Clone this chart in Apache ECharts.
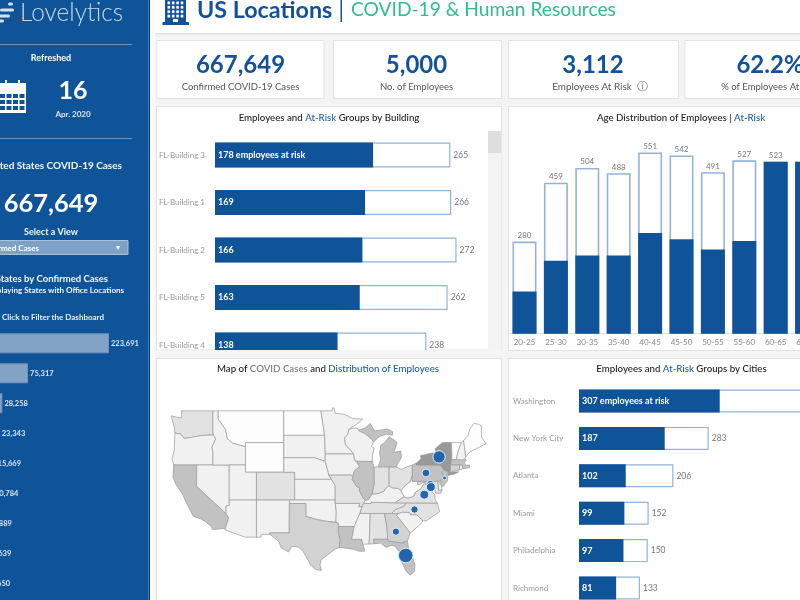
<!DOCTYPE html>
<html lang="en">
<head>
<meta charset="utf-8">
<title>US Locations | COVID-19 & Human Resources</title>
<script src="https://cdn.jsdelivr.net/npm/echarts@6/dist/echarts.min.js"></script>
<style>
  html, body { margin: 0; padding: 0; background: #f4f4f4; }
  #main { width: 800px; height: 600px; }
</style>
</head>
<body>
<div id="main"></div>
<script>
// data
var kpiValues = ['667,649', '5,000', '3,112', '62.2%'];
var kpiLabels = ['Confirmed COVID-19 Cases', 'No. of Employees', 'Employees At Risk', '% of Employees At Risk'];

var sideStates = ['New York', 'New Jersey', 'Pennsylvania', 'Florida', 'Georgia', 'Maryland', 'Virginia', 'North Carolina', 'South Carolina'];
var sideCases = [223691, 75317, 28258, 23343, 15669, 10784, 6889, 5639, 3650];

var buildings = ['FL-Building 3', 'FL-Building 1', 'FL-Building 2', 'FL-Building 5', 'FL-Building 4'];
var buildingTotal = [265, 266, 272, 262, 238];
var buildingRisk = [178, 169, 166, 163, 138];

var ageGroups = ['20-25', '25-30', '30-35', '35-40', '40-45', '45-50', '50-55', '55-60', '60-65', '65-70'];
var ageTotal = [280, 459, 504, 488, 551, 542, 491, 527, 523, 523];
var ageRisk = [128, 222, 238, 238, 306, 287, 256, 282, 523, 523];

var cities = ['Washington', 'New York City', 'Atlanta', 'Miami', 'Philadelphia', 'Richmond'];
var cityTotal = [520, 283, 206, 152, 150, 133];
var cityRisk = [307, 187, 102, 99, 97, 81];

var stateNames = ['WA','OR','CA','NV','ID','MT','WY','UT','CO','AZ','NM','ND','SD','NE','KS','OK','TX','MN','IA','MO','AR','LA','MS','AL','GA','FL','SC','NC','TN','KY','VA','WV','MD','DE','PA','NJ','NY','CT','RI','MA','VT','NH','ME','OH','IN','IL','WI','MI'];
var stateCases = [11057,1663,27677,3321,1464,404,296,2548,8280,4234,1484,393,1168,1000,1615,2465,16455,1809,2141,5111,1620,22532,3793,4572,15669,23343,3650,5639,6079,2291,6889,702,10784,2014,28258,75317,223691,16809,4177,29918,768,1287,770,7791,9542,25733,3721,29263];

// rough state outlines, lon/lat
var stateShapes = {
  WA: [[[-124.7,48.4],[-123.2,48.15],[-122.75,48.2],[-122.8,49],[-117.03,49],[-117.04,46.4],[-116.92,45.99],[-119,45.93],[-121.2,45.65],[-122.3,45.55],[-122.9,46.1],[-124,46.25],[-124.1,47]]],
  OR: [[[-124,46.25],[-122.9,46.1],[-122.3,45.55],[-121.2,45.65],[-119,45.93],[-116.92,45.99],[-116.5,45.5],[-117.2,44.4],[-117.03,43.8],[-117.03,42],[-124.2,42],[-124.5,42.85],[-124.1,44]]],
  CA: [[[-124.2,42],[-120,42],[-120,39],[-114.63,35],[-114.13,34.3],[-114.5,33.4],[-114.72,32.72],[-117.12,32.53],[-117.3,33],[-118.4,33.75],[-119.2,34.15],[-120.6,34.55],[-121.9,36.6],[-122.5,37.7],[-123.8,39.3],[-124.35,40.3]]],
  NV: [[[-120,42],[-114.04,42],[-114.04,36.2],[-114.63,36.1],[-114.63,35],[-120,39]]],
  ID: [[[-117.03,49],[-116.05,49],[-116.05,48],[-114.7,46.7],[-114.4,45.55],[-113.45,44.95],[-111.05,44.48],[-111.05,42],[-117.03,42],[-117.03,43.8],[-117.2,44.4],[-116.5,45.5],[-116.92,45.99],[-117.04,46.4]]],
  MT: [[[-116.05,49],[-104.05,49],[-104.05,45],[-111.05,45],[-111.05,44.48],[-113.45,44.95],[-114.4,45.55],[-114.7,46.7],[-116.05,48]]],
  WY: [[[-111.05,45],[-104.05,45],[-104.05,41],[-111.05,41]]],
  UT: [[[-114.04,42],[-111.05,42],[-111.05,41],[-109.05,41],[-109.05,37],[-114.04,37]]],
  CO: [[[-109.05,41],[-102.05,41],[-102.05,37],[-109.05,37]]],
  AZ: [[[-114.04,37],[-109.05,37],[-109.05,31.33],[-111.07,31.33],[-114.82,32.5],[-114.72,32.72],[-114.5,33.4],[-114.13,34.3],[-114.63,35],[-114.63,36.1],[-114.04,36.2]]],
  NM: [[[-109.05,37],[-103,37],[-103.05,32],[-106.62,32],[-106.53,31.78],[-108.2,31.78],[-108.2,31.33],[-109.05,31.33]]],
  ND: [[[-104.05,49],[-97.23,49],[-96.56,45.94],[-104.05,45.94]]],
  SD: [[[-104.05,45.94],[-96.56,45.94],[-96.45,43.5],[-96.45,42.49],[-98.5,43],[-104.05,43]]],
  NE: [[[-104.05,43],[-98.5,43],[-96.45,42.49],[-95.9,41],[-95.77,40.58],[-95.31,40],[-102.05,40],[-102.05,41],[-104.05,41]]],
  KS: [[[-102.05,40],[-95.31,40],[-94.62,39.1],[-94.62,37],[-102.05,37]]],
  OK: [[[-103,37],[-94.62,37],[-94.62,36.5],[-94.43,35.4],[-94.48,33.64],[-96.6,33.85],[-98.1,34.1],[-100,34.56],[-100,36.5],[-103,36.5]]],
  TX: [[[-106.62,32],[-103.05,32],[-103,36.5],[-100,36.5],[-100,34.56],[-98.1,34.1],[-96.6,33.85],[-94.48,33.64],[-94.04,33.55],[-94.04,32],[-93.7,31],[-93.85,29.7],[-94.7,29.4],[-96,28.5],[-97.2,27.7],[-97.4,26.9],[-97.15,25.95],[-98.2,26.1],[-99.2,26.9],[-99.5,27.5],[-100.6,29.2],[-101.4,29.77],[-102.3,29.88],[-102.7,29.7],[-103.15,28.98],[-104.5,29.6],[-104.9,30.6],[-106.53,31.78]]],
  MN: [[[-97.23,49],[-95.15,49],[-95.15,49.38],[-94.8,49.3],[-94.6,48.7],[-93,48.6],[-91.4,48.05],[-89.6,48],[-90.8,47.28],[-92.1,46.75],[-92.3,46.1],[-92.9,45.6],[-92.75,44.75],[-91.22,43.5],[-96.45,43.5],[-96.56,45.94]]],
  IA: [[[-96.45,43.5],[-91.22,43.5],[-91.1,42.7],[-90.15,41.8],[-91.1,41.2],[-91.42,40.38],[-91.73,40.61],[-95.77,40.58],[-95.9,41],[-96.45,42.49]]],
  MO: [[[-95.77,40.58],[-91.73,40.61],[-91.42,40.38],[-91.5,40],[-90.7,39],[-90.15,38.8],[-90.2,38.4],[-89.5,37.3],[-89.1,37],[-89.4,36.5],[-89.7,36],[-90.37,36],[-90.1,36.5],[-94.62,36.5],[-94.62,39.1],[-95.31,40]]],
  AR: [[[-94.62,36.5],[-90.1,36.5],[-90.37,36],[-89.7,36],[-90.1,35],[-91.15,33],[-94.04,33],[-94.04,33.55],[-94.48,33.64],[-94.43,35.4]]],
  LA: [[[-94.04,33],[-91.15,33],[-91.6,31],[-89.73,31],[-89.6,30.2],[-89.4,29.8],[-89.2,29.1],[-90.2,29.1],[-91.3,29.4],[-92.3,29.55],[-93.85,29.7],[-93.7,31],[-94.04,32]]],
  MS: [[[-90.1,35],[-88.2,35],[-88.4,30.25],[-89.6,30.2],[-89.73,31],[-91.6,31],[-91.15,33]]],
  AL: [[[-88.2,35],[-85.6,35],[-85.13,32.8],[-85,31],[-87.6,31],[-87.5,30.3],[-88.4,30.25]]],
  GA: [[[-85.6,35],[-83.1,35],[-83.35,34.7],[-81.4,32.6],[-80.85,32.03],[-81.4,30.7],[-82.2,30.55],[-82.05,30.36],[-84.86,30.7],[-85,31],[-85.13,32.8]]],
  FL: [[[-87.6,31],[-85,31],[-84.86,30.7],[-82.05,30.36],[-82.2,30.55],[-81.4,30.7],[-81.2,29.6],[-80.5,28.3],[-80,26.8],[-80.15,25.7],[-80.9,25.15],[-81.7,25.9],[-82.2,26.9],[-82.8,27.9],[-82.7,28.8],[-83.7,29.9],[-84.3,30.05],[-85.3,29.7],[-86.3,30.4],[-87.5,30.3]]],
  SC: [[[-83.35,34.7],[-83.1,35],[-82.3,35.2],[-81.05,35.15],[-80.8,34.82],[-79.67,34.8],[-78.55,33.86],[-79.2,33.2],[-80.85,32.03],[-81.4,32.6]]],
  NC: [[[-84.32,34.99],[-83.1,35],[-82.3,35.2],[-81.05,35.15],[-80.8,34.82],[-79.67,34.8],[-78.55,33.86],[-77.9,33.9],[-76.5,34.7],[-75.5,35.25],[-75.9,36.55],[-81.68,36.59],[-82,36.1],[-83.7,35.55]]],
  TN: [[[-89.7,36],[-89.4,36.5],[-88.07,36.5],[-88.07,36.68],[-83.68,36.6],[-81.68,36.59],[-82,36.1],[-83.7,35.55],[-84.32,34.99],[-85.6,35],[-88.2,35],[-90.1,35]]],
  KY: [[[-89.4,36.5],[-89.1,37],[-88.5,37.1],[-87.9,37.9],[-86.8,37.95],[-85.7,38.3],[-85.4,38.7],[-84.8,39.1],[-84.2,38.8],[-83,38.7],[-82.6,38.4],[-82,37.5],[-83.68,36.6],[-88.07,36.68],[-88.07,36.5]]],
  VA: [[[-83.68,36.6],[-82,37.5],[-81.3,37.3],[-80.3,37.55],[-79.9,38.2],[-79.3,38.42],[-78.87,38.76],[-78.35,39.4],[-77.75,39.32],[-77.1,38.9],[-77.3,38.4],[-76.4,37.9],[-76.3,37],[-75.9,36.55],[-81.68,36.59]]],
  WV: [[[-82,37.5],[-82.6,38.4],[-81.75,39.2],[-80.85,39.7],[-80.52,40.64],[-80.52,39.72],[-79.48,39.72],[-79.48,39.2],[-78.35,39.63],[-77.75,39.32],[-78.35,39.4],[-78.87,38.76],[-79.3,38.42],[-79.9,38.2],[-80.3,37.55],[-81.3,37.3]]],
  MD: [[[-79.48,39.72],[-75.79,39.72],[-75.7,38.46],[-75.05,38.45],[-75.25,38.03],[-76.2,38],[-76.5,38.9],[-77.1,38.9],[-77.75,39.32],[-78.35,39.63],[-79.48,39.2]]],
  DE: [[[-75.79,39.72],[-75.4,39.8],[-75.1,38.8],[-75.05,38.45],[-75.7,38.46]]],
  PA: [[[-80.52,42],[-79.76,42.27],[-79.76,42],[-75.35,42],[-74.7,41.36],[-75.1,40.95],[-74.75,40.2],[-75.4,39.8],[-75.79,39.72],[-80.52,39.72]]],
  NJ: [[[-74.7,41.36],[-73.9,41],[-74.2,40.45],[-74,40.4],[-74.1,39.75],[-74.9,38.95],[-75.5,39.5],[-74.75,40.2],[-75.1,40.95]]],
  NY: [[[-79.76,42.27],[-78.9,42.85],[-79,43.27],[-76.8,43.63],[-76.2,43.55],[-76.3,44.2],[-75,45],[-73.35,45],[-73.25,43.6],[-73.27,42.75],[-73.5,42.05],[-73.5,41.3],[-73.65,41],[-72,41.05],[-72.7,40.75],[-74,40.55],[-73.9,41],[-74.7,41.36],[-75.35,42],[-79.76,42]]],
  CT: [[[-73.5,42.05],[-71.8,42.02],[-71.85,41.32],[-73.65,41],[-73.5,41.3]]],
  RI: [[[-71.8,42.02],[-71.38,42.02],[-71.2,41.5],[-71.85,41.32]]],
  MA: [[[-73.5,42.05],[-73.27,42.75],[-71.3,42.7],[-70.85,42.87],[-70.6,42.65],[-71,42.3],[-70.6,41.95],[-70,42],[-70,41.65],[-71.2,41.5],[-71.38,42.02],[-71.8,42.02]]],
  VT: [[[-73.35,45],[-71.5,45],[-72.05,44],[-72.46,42.73],[-73.27,42.75],[-73.25,43.6]]],
  NH: [[[-71.5,45],[-71.1,45.3],[-70.7,43.1],[-70.85,42.87],[-71.3,42.7],[-72.46,42.73],[-72.05,44]]],
  ME: [[[-71.1,45.3],[-70.3,45.9],[-70,46.7],[-69.2,47.45],[-68.3,47.35],[-67.8,47.07],[-67.8,45.7],[-67,44.85],[-68.5,44.3],[-70,43.75],[-70.7,43.1]]],
  OH: [[[-84.8,41.76],[-83.45,41.73],[-82.5,41.4],[-81.3,41.8],[-80.52,42],[-80.52,40.64],[-80.85,39.7],[-81.75,39.2],[-82.6,38.4],[-83,38.7],[-84.2,38.8],[-84.8,39.1]]],
  IN: [[[-87.52,41.7],[-86.8,41.76],[-84.8,41.76],[-84.8,39.1],[-85.4,38.7],[-85.7,38.3],[-86.8,37.95],[-87.9,37.9],[-87.5,39.3]]],
  IL: [[[-90.64,42.5],[-87.8,42.5],[-87.52,41.7],[-87.5,39.3],[-87.9,37.9],[-88.5,37.1],[-89.1,37],[-89.5,37.3],[-90.2,38.4],[-90.15,38.8],[-90.7,39],[-91.5,40],[-91.42,40.38],[-91.1,41.2],[-90.15,41.8]]],
  WI: [[[-92.1,46.75],[-90.8,46.9],[-89.1,46.15],[-87.8,45.35],[-87.6,45.1],[-88,44.5],[-87.5,44.3],[-87.8,43.3],[-87.8,42.5],[-90.64,42.5],[-91.1,42.7],[-91.22,43.5],[-92.75,44.75],[-92.9,45.6],[-92.3,46.1]]],
  MI: [[[-86.8,41.76],[-83.45,41.73],[-83.1,42.3],[-82.5,43],[-82.6,43.9],[-83.9,43.7],[-83.3,44.9],[-83.4,45.1],[-84.75,45.78],[-85.5,45],[-86.25,44.7],[-86.5,43.6],[-86.25,42.8]],
       [[-90.4,46.55],[-89.1,46.9],[-88.2,47.45],[-87.7,46.85],[-87.4,46.5],[-85,46.75],[-84.1,46.4],[-84.1,45.98],[-85.5,46.05],[-86.5,45.8],[-87.6,45.1],[-87.8,45.35],[-89.1,46.15]]]
};

var officeSpots = [[-75.6,43.1],[-78,40.9],[-74.6,40.2],[-77.2,39.4],[-77.1,38.9],[-78.3,37.8],[-80.1,35.6],[-83.5,32.2],[-81.7,28.4]];
var officeStaff = [790, 320, 80, 235, 420, 420, 275, 275, 1100];

var FONT = 'Lato, "Noto Sans", sans-serif';
var BLUE = '#0f5499';
var EDGE = '#94b3d9';
var GREY = '#f4f4f4';

var features = stateNames.map(function (name) {
  var rings = stateShapes[name];
  return {
    type: 'Feature',
    properties: { name: name },
    geometry: rings.length > 1
      ? { type: 'MultiPolygon', coordinates: rings.map(function (r) { return [r.concat([r[0]])]; }) }
      : { type: 'Polygon', coordinates: [rings[0].concat([rings[0][0]])] }
  };
});
echarts.registerMap('usa', { type: 'FeatureCollection', features: features });

// tableau draws the map in web mercator
var mercator = {
  project: function (p) {
    return [p[0], -Math.log(Math.tan(Math.PI / 4 + p[1] * Math.PI / 360)) * 180 / Math.PI];
  },
  unproject: function (p) {
    return [p[0], (2 * Math.atan(Math.exp(-p[1] * Math.PI / 180)) - Math.PI / 2) * 180 / Math.PI];
  }
};

function box(x, y, w, h, fill, stroke, z) {
  return { type: 'rect', z: z || 0, shape: { x: x, y: y, width: w, height: h },
    style: { fill: fill, stroke: stroke || null, lineWidth: stroke ? 1 : 0 }, silent: true };
}
function label(text, x, y, size, color, weight, align, z) {
  return { type: 'text', z: z || 5, x: x, y: y, silent: true,
    style: { text: text, fontFamily: FONT, fontSize: size, fill: color, fontWeight: weight || 'normal',
      align: align || 'center', verticalAlign: 'middle' } };
}
function panelTitle(parts, x, y) {
  var rich = { k: { fill: '#222', fontSize: 9.7, fontFamily: FONT, fontWeight: 500 },
    b: { fill: '#1d5ea8', fontSize: 9.7, fontFamily: FONT, fontWeight: 500 },
    g: { fill: '#777', fontSize: 9.7, fontFamily: FONT, fontWeight: 500 } };
  return { type: 'text', z: 5, x: x, y: y, silent: true,
    style: { text: parts, rich: rich, align: 'center', verticalAlign: 'middle' } };
}

var els = [];
// sidebar
els.push(box(0, 0, 148.5, 600, BLUE), box(148.5, 0, 1.5, 600, '#0b3f86'));
els.push(box(150, 0, 5, 600, '#fafafa'));
[[8, 4, 5], [0, 10, 14], [-2, 16, 12], [-1, 21, 5]].forEach(function (s) {
  els.push({ type: 'rect', z: 3, shape: { x: s[0], y: s[1] - 1.5, width: s[2], height: 3, r: 1.5 }, style: { fill: '#d5e2ee' }, silent: true });
});
els.push(label('Lovelytics', 20, 13, 24.5, '#c6d8ea', 300, 'left'));
els.push(box(0, 44, 132, 1, '#6d93bf'), box(0, 138, 132, 1, '#6d93bf'));
els.push(label('Refreshed', 51, 58.5, 9, '#fff', 'bold'));
els.push(box(-3, 83, 29, 30, '#fff', null, 3));
for (var r = 0; r < 3; r++) for (var c = 0; c < 4; c++) els.push(box(0 + c * 6.5, 94 + r * 6, 5, 4, BLUE, null, 4));
els.push(box(5, 80, 2, 6, '#fff', null, 4), box(18, 80, 2, 6, '#fff', null, 4));
els.push(label('16', 73, 91, 25, '#fff', 'bold'));
els.push(label('Apr. 2020', 73, 114.5, 8, '#dfe8f2', 'bold'));
els.push(label('United States COVID-19 Cases', 122, 166, 10, '#f2f5f9', 'bold', 'right'));
els.push(label('667,649', 51, 204, 25.5, '#fff', 'bold'));
els.push(label('Select a View', 51, 232.5, 9, '#f2f5f9', 'bold'));
els.push(box(-3, 240.5, 131, 14, '#7ea1c8', '#a9c1dc', 3));
els.push(label('Confirmed Cases', 39, 248, 8, '#fff', 'bold', 'right'));
els.push(label('\u25BE', 118, 247.5, 8, '#fff', 'normal'));
els.push(label('Top States by Confirmed Cases', 108, 278.5, 9.5, '#f2f5f9', 'bold', 'right'));
els.push(label('Displaying States with Office Locations', 124, 290.5, 8, '#f2f5f9', 'bold', 'right'));
els.push(label('Click to Filter the Dashboard', 104, 317, 8, '#e8eef5', 'bold', 'right'));

// header
els.push(box(155, 0, 645, 33, '#fff'), box(155, 33, 645, 1.5, '#e2e2e2'));
els.push(box(165, 0, 21, 22, '#15509b', null, 3), box(162.5, 22, 26.5, 3, '#15509b', null, 3));
for (var wr = 0; wr < 4; wr++) for (var wc = 0; wc < 4; wc++) els.push(box(167.5 + wc * 4.4, 1.5 + wr * 4.4, 2.6, 2.8, '#fff', null, 4));
els.push(box(173, 19, 5, 3, '#fff', null, 4));
els.push(label('US Locations', 197, 10, 23.3, '#15509b', 'bold', 'left'));
els.push(box(340.5, 0, 1.5, 22, '#15509b', null, 3));
els.push(label('COVID-19 & Human Resources', 351, 10, 19.2, '#2fbd8b', 'normal', 'left'));

// kpi cards
var cardX = [157, 333.5, 508.5, 685], cardW = [167, 168, 170, 130], kpiX = [240.5, 416.5, 593, 770];
cardX.forEach(function (x, i) {
  els.push(box(x, 40.5, cardW[i], 58, '#fff', '#e3e3e3'));
  els.push(label(kpiValues[i], kpiX[i], 65, 24, '#15509b', 'bold'));
  els.push(label(kpiLabels[i], kpiX[i] - (i === 2 ? 1 : 0), 87, i === 2 ? 9.9 : 9.5, '#555'));
});
els.push(label('\u24D8', 642.5, 87, 11, '#777'));
els[els.length - 1].style.fontFamily = 'DejaVu Sans';

// panels
els.push(box(156.5, 106.5, 345, 243.5, '#fff', '#e3e3e3'));
els.push(box(508.5, 106.5, 300, 244, '#fff', '#e3e3e3'));
els.push(box(156.5, 358.5, 345, 250, '#fff', '#e3e3e3'));
els.push(box(508.5, 358.5, 300, 250, '#fff', '#e3e3e3'));
els.push(box(488, 131, 13.5, 219, '#f3f3f3', null, 3), box(488, 131, 13.5, 22, '#dedede', null, 4));
// the building list scrolls, its last bar is cut off by the panel edge
els.push(box(156, 350, 346, 8, GREY, null, 100));
els.push(panelTitle('{k|Employees and }{b|At-Risk}{k| Groups by Building}', 329, 117.5));
els.push(panelTitle('{k|Age Distribution of Employees | }{b|At-Risk}', 681, 117.5));
els.push(panelTitle('{k|Map of }{g|COVID Cases}{k| and }{b|Distribution of Employees}', 328, 368.7));
els.push(panelTitle('{k|Employees and }{b|At-Risk}{k| Groups by Cities}', 681.5, 369));

function hBars(total, risk, gridIndex, barH) {
  var riskLabel = {
    show: true, position: 'insideLeft', distance: 3, color: '#fff', fontFamily: FONT, fontSize: 9, fontWeight: 'bold',
    formatter: function (p) { return p.dataIndex === 0 ? p.value + ' employees at risk' : '' + p.value; }
  };
  return [
    { type: 'bar', xAxisIndex: gridIndex, yAxisIndex: gridIndex, data: total, barWidth: barH, barGap: '-100%', silent: true,
      itemStyle: { color: '#fff', borderColor: EDGE, borderWidth: 1.2 },
      label: { show: true, position: 'right', distance: 3, color: '#777', fontFamily: FONT, fontSize: 8.5 } },
    { type: 'bar', xAxisIndex: gridIndex, yAxisIndex: gridIndex, data: risk, barWidth: barH, barGap: '-100%', silent: true,
      itemStyle: { color: BLUE }, label: riskLabel }
  ];
}
function hCat(cats, gridIndex, align, margin) {
  return { type: 'category', gridIndex: gridIndex, data: cats, inverse: true,
    axisLine: { show: false }, axisTick: { show: false },
    axisLabel: { color: '#999', fontFamily: FONT, fontSize: 8, align: align, margin: margin } };
}
function hVal(gridIndex, max) {
  return { type: 'value', gridIndex: gridIndex, min: 0, max: max, show: false, splitLine: { show: false } };
}

var option = {
  animation: false,
  backgroundColor: GREY,
  graphic: { elements: els },
  // these grids run past the window edge on purpose, as in the reference
  grid: [
    { outerBoundsMode: 'none', left: -13, top: 328.3, width: 122, height: 270 },
    { outerBoundsMode: 'none', left: 215, top: 131.25, width: 266.4, height: 237.5 },
    { outerBoundsMode: 'none', left: 508.8, top: 136.3, width: 314, height: 197.4 },
    { outerBoundsMode: 'none', left: 579, top: 382.3, width: 275, height: 224.4 }
  ],
  xAxis: [
    hVal(0, 223691),
    hVal(1, 300),
    { type: 'category', gridIndex: 2, data: ageGroups, axisLine: { lineStyle: { color: '#ddd' } }, axisTick: { show: false },
      axisLabel: { color: '#888', fontFamily: FONT, fontSize: 8, margin: 5, interval: 0 } },
    hVal(3, 600)
  ],
  yAxis: [
    { type: 'category', gridIndex: 0, data: sideStates, inverse: true, show: false },
    hCat(buildings, 1, 'right', 10),
    { type: 'value', gridIndex: 2, min: 0, max: 600, show: false, splitLine: { show: false } },
    hCat(cities, 3, 'left', 66)
  ],
  geo: {
    map: 'usa', projection: mercator, roam: false, silent: true,
    left: 171, top: 407.7, width: 315, height: 167.5,
    itemStyle: { areaColor: '#f1f1f1', borderColor: '#9a9a9a', borderWidth: 0.7 },
    label: { show: false }
  },
  visualMap: {
    show: false, type: 'piecewise', seriesIndex: 0,
    pieces: [
      { lt: 1000, color: '#fdfdfd' },
      { gte: 1000, lt: 4500, color: '#f1f1f1' },
      { gte: 4500, lt: 12000, color: '#e2e2e2' },
      { gte: 12000, lt: 22000, color: '#d2d2d2' },
      { gte: 22000, lt: 100000, color: '#c2c2c2' },
      { gte: 100000, color: '#999999' }
    ]
  },
  series: [
    { type: 'map', geoIndex: 0, silent: true,
      data: stateNames.map(function (n, i) { return { name: n, value: stateCases[i] }; }) },
    { type: 'scatter', coordinateSystem: 'geo', silent: true, z: 5,
      data: officeSpots.map(function (p, i) { return [p[0], p[1], officeStaff[i]]; }),
      symbolSize: function (v) { return Math.sqrt(v[2]) * 0.44; },
      itemStyle: { color: '#2366ac', borderColor: '#e8eef5', borderWidth: 1, opacity: 1 } },
    { type: 'bar', xAxisIndex: 0, yAxisIndex: 0, data: sideCases, barWidth: 20, silent: true,
      itemStyle: { color: '#82a3c6', borderColor: '#6f92bb', borderWidth: 1 },
      label: { show: true, position: 'right', distance: 2, color: '#dbe6f1', fontFamily: FONT, fontSize: 7.5, fontWeight: 'bold',
        formatter: function (p) { return p.value.toLocaleString('en-US'); } } }
  ]
    .concat(hBars(buildingTotal, buildingRisk, 1, 25))
    .concat([
      { type: 'bar', xAxisIndex: 2, yAxisIndex: 2, data: ageTotal, barWidth: 24, barGap: '-100%', silent: true,
        itemStyle: { color: '#fff', borderColor: EDGE, borderWidth: 1.6 },
        label: { show: true, position: 'top', distance: 2, color: '#777', fontFamily: FONT, fontSize: 8 } },
      { type: 'bar', xAxisIndex: 2, yAxisIndex: 2, data: ageRisk, barWidth: 24, barGap: '-100%', silent: true,
        itemStyle: { color: BLUE } }
    ])
    .concat(hBars(cityTotal, cityRisk, 3, 23))
};

var chart = echarts.init(document.getElementById('main'));
chart.setOption(option);
</script>
</body>
</html>
